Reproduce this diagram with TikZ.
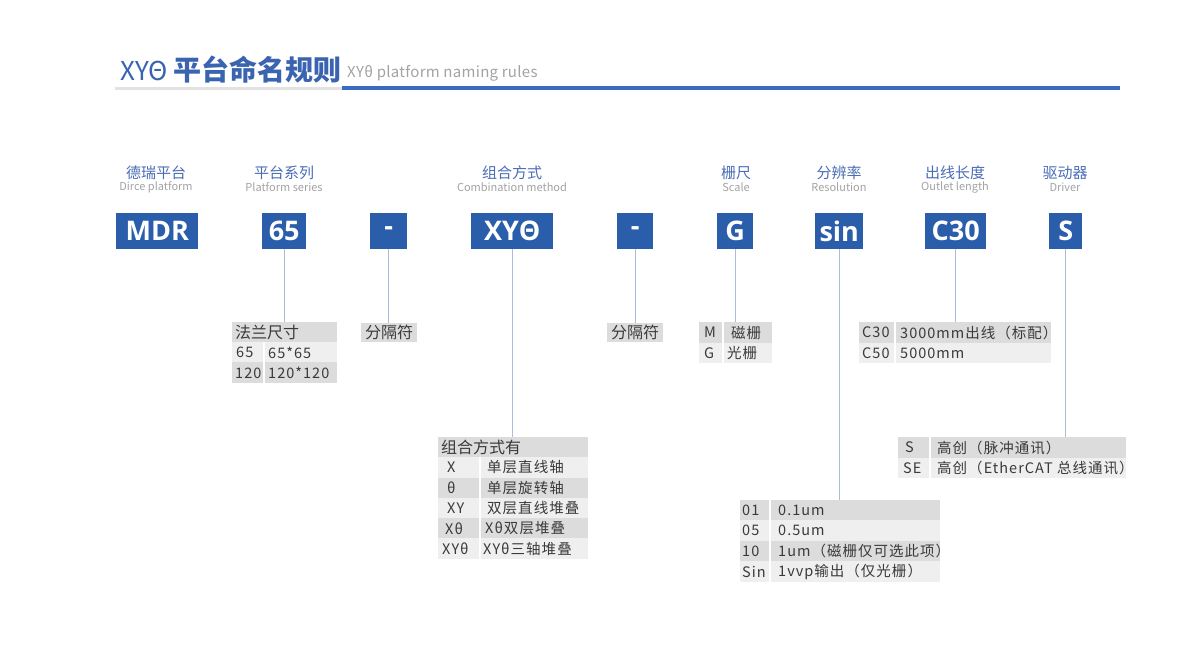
\documentclass[tikz,border=0pt]{standalone}
\usepackage{fontspec}
\setmainfont{Noto Sans CJK SC}
\newfontfamily\boxfont{Open Sans}
\newfontfamily\cellfont[LetterSpace=7]{Noto Sans CJK SC}
\newfontfamily\subfont[LetterSpace=2]{Noto Sans CJK SC}
\definecolor{boxblue}{HTML}{2B5EAA}
\definecolor{titleblue}{HTML}{3A64B0}
\definecolor{headblue}{HTML}{4A6DB6}
\definecolor{subgray}{HTML}{A3A3A3}
\definecolor{rowdark}{HTML}{DCDCDC}
\definecolor{rowlight}{HTML}{EFEFEF}
\definecolor{tabtext}{HTML}{3A3A3A}
\definecolor{conncol}{HTML}{AEBBE0}
\definecolor{rulegray}{HTML}{E2E2E2}
\definecolor{ruleblue}{HTML}{3A6BC0}
\tikzset{
  codebox/.style={fill=boxblue, text=white, font=\boxfont\bfseries\fontsize{27}{27}\selectfont, inner sep=0pt, minimum height=36pt, anchor=north west},
  rowd/.style={fill=rowdark, inner sep=0pt, anchor=north west},
  rowl/.style={fill=rowlight, inner sep=0pt, anchor=north west},
  cell/.style={anchor=west, inner sep=0pt, text=tabtext, font=\cellfont\fontsize{14.5}{14.5}\selectfont},
  hcell/.style={anchor=west, inner sep=0pt, text=tabtext, font=\fontsize{16}{16}\selectfont},
  headcn/.style={text=headblue, inner sep=0pt, font=\fontsize{15}{15}\selectfont},
  headen/.style={text=subgray, inner sep=0pt, font=\fontsize{11}{11}\selectfont},
  conn/.style={draw=conncol, line width=1pt},
  colsep/.style={draw=white, line width=1.5pt}
}
\begin{document}
\begin{tikzpicture}[x=1pt,y=-1pt]
\useasboundingbox[fill=white] (0,0) rectangle (1204,664);

% title
\node[anchor=base west, inner sep=0pt, text=titleblue] (title) at (120,80) {\fontsize{26}{26}\selectfont XYΘ\hspace{5pt}\fontsize{28}{28}\selectfont\textbf{平台命名规则}};
\node[anchor=base west, inner sep=0pt, text=subgray, font=\subfont\fontsize{15}{15}\selectfont] (subtitle) at (347,77) {XYθ platform naming rules};
\draw[draw=rulegray, line width=3pt] (115,88) -- (342,88);
\draw[draw=ruleblue, line width=4pt] (342,88) -- (1120,88);

% header labels
\node[headcn] (h1) at (156,173) {德瑞平台};
\node[headen] (e1) at (156,187) {Dirce platform};
\node[headcn] (h2) at (284,173) {平台系列};
\node[headen] (e2) at (284,187) {Platform series};
\node[headcn] (h3) at (512,173) {组合方式};
\node[headen] (e3) at (512,187) {Combination method};
\node[headcn] (h4) at (736,173) {栅尺};
\node[headen] (e4) at (736,187) {Scale};
\node[headcn] (h5) at (839,173) {分辨率};
\node[headen] (e5) at (839,187) {Resolution};
\node[headcn] (h6) at (955,173) {出线长度};
\node[headen] (e6) at (955,187) {Outlet length};
\node[headcn] (h7) at (1065,173) {驱动器};
\node[headen] (e7) at (1065,187) {Driver};

% code boxes
\node[codebox, minimum width=82pt] (bMDR) at (116,213) {MDR};
\node[codebox, minimum width=44pt] (b65) at (262,213) {65};
\node[codebox, minimum width=37pt] (bd1) at (370,213) {-};
\node[codebox, minimum width=82pt] (bXY) at (471,213) {XYΘ};
\node[codebox, minimum width=36pt] (bd2) at (617,213) {-};
\node[codebox, minimum width=36pt] (bG) at (717,213) {G};
\node[codebox, minimum width=48pt] (bsin) at (815,213) {sin};
\node[codebox, minimum width=61pt] (bC) at (925,213) {C30};
\node[codebox, minimum width=33pt] (bS) at (1049,213) {S};

% table: flange size
\node[rowd, minimum width=105pt, minimum height=20pt] (fl0) at (232,322) {};
\node[rowl, minimum width=105pt, minimum height=20pt] (fl1) at (232,342) {};
\node[rowd, minimum width=105pt, minimum height=21pt] (fl2) at (232,362) {};
\draw[colsep] (264,342) -- (264,383);
\node[hcell] (fl0a) at (235,332) {法兰尺寸};
\node[cell] (fl1a) at (236,352.5) {65};
\node[cell] (fl1b) at (268,352.5) {65*65};
\node[cell] (fl2a) at (235,373) {120};
\node[cell] (fl2b) at (268,373) {120*120};

% separators
\node[rowd, minimum width=56pt, minimum height=19pt] (sp1) at (361,323) {};
\node[hcell, anchor=center] (sp1t) at (sp1.center) {分隔符};
\node[rowd, minimum width=56pt, minimum height=19pt] (sp2) at (607,323) {};
\node[hcell, anchor=center] (sp2t) at (sp2.center) {分隔符};

% table: combination
\node[rowd, minimum width=150pt, minimum height=20pt] (cb0) at (438,437) {};
\node[rowl, minimum width=150pt, minimum height=20.5pt] (cb1) at (438,457) {};
\node[rowd, minimum width=150pt, minimum height=20pt] (cb2) at (438,477.5) {};
\node[rowl, minimum width=150pt, minimum height=20.5pt] (cb3) at (438,497.5) {};
\node[rowd, minimum width=150pt, minimum height=20pt] (cb4) at (438,518) {};
\node[rowl, minimum width=150pt, minimum height=20.5pt] (cb5) at (438,538) {};
\draw[colsep] (480,457) -- (480,558.5);
\node[hcell] (cb0a) at (441,447) {组合方式有};
\node[cell] (cb1a) at (447,467.5) {X};
\node[cell] (cb1b) at (487,467.5) {单层直线轴};
\node[cell] (cb2a) at (447,488) {θ};
\node[cell] (cb2b) at (487,488) {单层旋转轴};
\node[cell] (cb3a) at (447,508) {XY};
\node[cell] (cb3b) at (487,508) {双层直线堆叠};
\node[cell] (cb4a) at (445,528.5) {Xθ};
\node[cell] (cb4b) at (485,528.5) {Xθ双层堆叠};
\node[cell] (cb5a) at (442,549) {XYθ};
\node[cell] (cb5b) at (483,549) {XYθ三轴堆叠};

% table: scale
\node[rowd, minimum width=73pt, minimum height=21pt] (sc0) at (699,322) {};
\node[rowl, minimum width=73pt, minimum height=20pt] (sc1) at (699,343) {};
\draw[colsep] (723,322) -- (723,363);
\node[cell] (sc0a) at (704,332.5) {M};
\node[cell] (sc0b) at (731,332.5) {磁栅};
\node[cell] (sc1a) at (704,353) {G};
\node[cell] (sc1b) at (727,353) {光栅};

% table: outlet length
\node[rowd, minimum width=192pt, minimum height=21pt] (ol0) at (859,322) {};
\node[rowl, minimum width=192pt, minimum height=20pt] (ol1) at (859,343) {};
\draw[colsep] (895,322) -- (895,363);
\node[cell] (ol0a) at (862,332.5) {C30};
\node[cell] (ol0b) at (900,332.5) {3000mm出线（标配）};
\node[cell] (ol1a) at (862,353) {C50};
\node[cell] (ol1b) at (900,353) {5000mm};

% table: resolution
\node[rowd, minimum width=200pt, minimum height=20pt] (rs0) at (740,500) {};
\node[rowl, minimum width=200pt, minimum height=21pt] (rs1) at (740,520) {};
\node[rowd, minimum width=200pt, minimum height=20pt] (rs2) at (740,541) {};
\node[rowl, minimum width=200pt, minimum height=21pt] (rs3) at (740,561) {};
\draw[colsep] (770,500) -- (770,582);
\node[cell] (rs0a) at (742,510) {01};
\node[cell] (rs0b) at (778,510) {0.1um};
\node[cell] (rs1a) at (742,530.5) {05};
\node[cell] (rs1b) at (778,530.5) {0.5um};
\node[cell] (rs2a) at (742,551) {10};
\node[cell] (rs2b) at (778,551) {1um（磁栅仅可选此项）};
\node[cell] (rs3a) at (742,571.5) {Sin};
\node[cell] (rs3b) at (778,571.5) {1vvp输出（仅光栅）};

% table: driver
\node[rowd, minimum width=228pt, minimum height=21pt] (dr0) at (898,437) {};
\node[rowl, minimum width=228pt, minimum height=20pt] (dr1) at (898,458) {};
\draw[colsep] (930,437) -- (930,478);
\node[cell] (dr0a) at (905,447.5) {S};
\node[cell] (dr0b) at (937,447.5) {高创（脉冲通讯）};
\node[cell] (dr1a) at (903,468) {SE};
\node[cell] (dr1b) at (937,468) {高创（EtherCAT 总线通讯）};

% connectors
\draw[conn] (b65.south) -- (b65.south |- fl0.north);
\draw[conn] (bd1.south) -- (bd1.south |- sp1.north);
\draw[conn] (bXY.south) -- (bXY.south |- cb0.north);
\draw[conn] (bd2.south) -- (bd2.south |- sp2.north);
\draw[conn] (bG.south) -- (bG.south |- sc0.north);
\draw[conn] (bsin.south) -- (bsin.south |- rs0.north);
\draw[conn] (bC.south) -- (bC.south |- ol0.north);
\draw[conn] (bS.south) -- (bS.south |- dr0.north);
\end{tikzpicture}
\end{document}
